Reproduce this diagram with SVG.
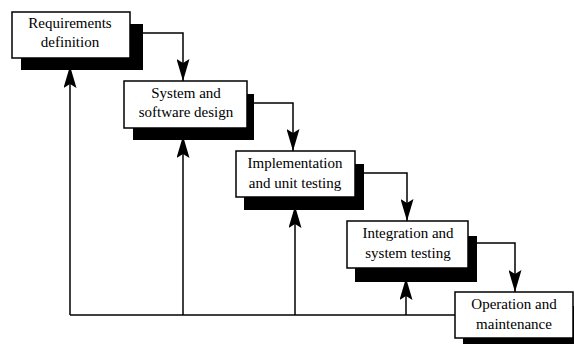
<svg xmlns="http://www.w3.org/2000/svg" width="574" height="344" viewBox="0 0 574 344">
<style>
.box{fill:#fff;stroke:#000;stroke-width:1.5}
.sh{fill:#000}
.t{font-family:"Liberation Serif","Times New Roman",serif;font-size:15px;fill:#000;text-anchor:middle}
.c{fill:none;stroke:#000;stroke-width:1.5}
</style>
<defs>
<marker id="ah" viewBox="0 0 22 13" markerWidth="22" markerHeight="13" refX="22" refY="6.5" orient="auto" markerUnits="userSpaceOnUse">
<path d="M0,0 L22,6.5 L0,13 L4,6.5 z" fill="#000"/>
</marker>
</defs>
<rect width="574" height="344" fill="#fff"/>
<g id="connectors">
<path class="c" d="M143,33 H183 V81" marker-end="url(#ah)"/>
<path class="c" d="M254,103 H293 V151" marker-end="url(#ah)"/>
<path class="c" d="M364,173 H407 V221" marker-end="url(#ah)"/>
<path class="c" d="M477,243 H515 V292" marker-end="url(#ah)"/>
<path class="c" d="M455,315 H70"/>
<path class="c" d="M70,315 V66" marker-end="url(#ah)"/>
<path class="c" d="M183,315 V136" marker-end="url(#ah)"/>
<path class="c" d="M295,315 V206" marker-end="url(#ah)"/>
<path class="c" d="M406,315 V278" marker-end="url(#ah)"/>
</g>
<g id="n1">
<rect class="sh" x="21" y="24" width="122" height="46"/>
<rect class="box" x="12" y="12" width="118" height="46"/>
<text class="t" x="70" y="28">Requirements</text>
<text class="t" x="70" y="47">definition</text>
</g>
<g id="n2">
<rect class="sh" x="133" y="94" width="121" height="46"/>
<rect class="box" x="124" y="81" width="123" height="47"/>
<text class="t" x="186" y="98">System and</text>
<text class="t" x="186" y="117">software design</text>
</g>
<g id="n3">
<rect class="sh" x="244" y="164" width="120" height="46"/>
<rect class="box" x="236" y="151" width="119" height="46"/>
<text class="t" x="295" y="168">Implementation</text>
<text class="t" x="295" y="188">and unit testing</text>
</g>
<g id="n4">
<rect class="sh" x="355" y="236" width="122" height="46"/>
<rect class="box" x="347" y="221" width="121" height="47"/>
<text class="t" x="408" y="238">Integration and</text>
<text class="t" x="408" y="258">system testing</text>
</g>
<g id="n5">
<rect class="sh" x="463" y="306" width="120" height="50"/>
<rect class="box" x="455" y="292" width="118" height="46"/>
<text class="t" x="514" y="309">Operation and</text>
<text class="t" x="514" y="329">maintenance</text>
</g>
</svg>
